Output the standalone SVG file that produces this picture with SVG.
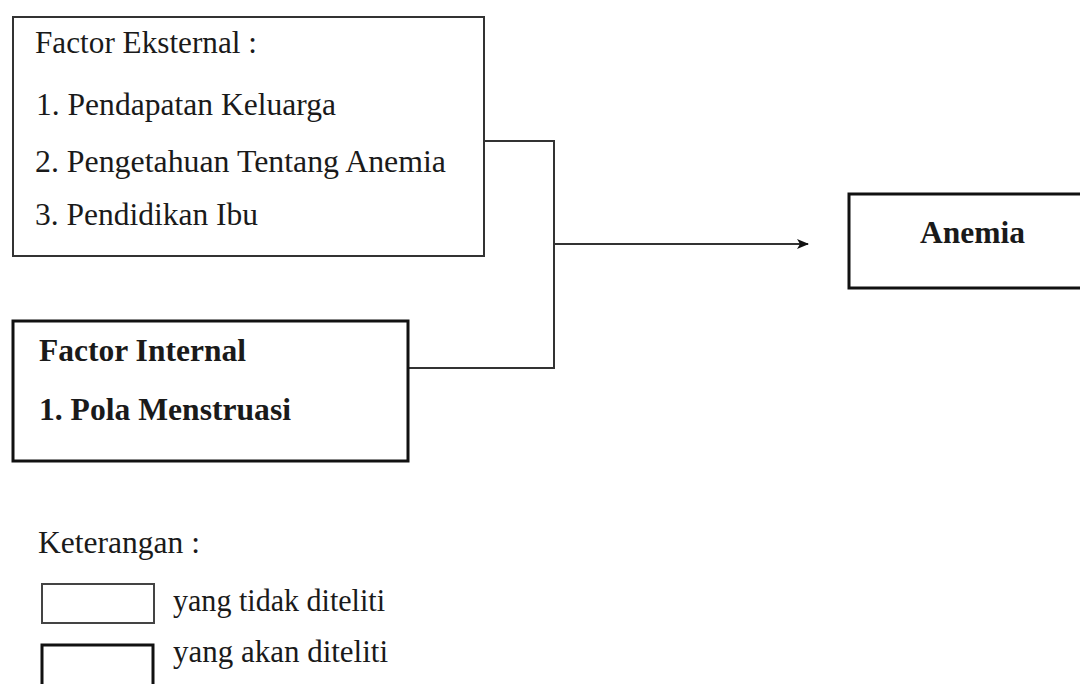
<svg xmlns="http://www.w3.org/2000/svg" width="1080" height="684" viewBox="0 0 1080 684">
  <defs>
    <marker id="arrow" viewBox="0 0 12 10" refX="11" refY="5" markerWidth="12" markerHeight="10" markerUnits="userSpaceOnUse" orient="auto">
      <path d="M0,0 L12,5 L0,10 L3,5 Z" fill="#111"/>
    </marker>
    <style>
      .t { font-family: "Liberation Serif", "Times New Roman", serif; font-size: 31px; fill: #1a1a1a; }
      .b { font-weight: bold; }
      .thin { fill: #fff; stroke: #333; stroke-width: 2; }
      .thick { fill: #fff; stroke: #111; stroke-width: 3; }
      .conn { fill: none; stroke: #333; stroke-width: 2; }
    </style>
  </defs>
  <rect width="1080" height="684" fill="#fff"/>

  <g id="connectors">
    <polyline class="conn" points="485,141 554,141 554,368 409,368"/>
    <line class="conn" x1="554" y1="244" x2="808" y2="244" marker-end="url(#arrow)"/>
  </g>

  <g id="node-eksternal">
    <rect class="thin" x="13" y="17" width="471" height="239"/>
    <text class="t" x="35" y="53" textLength="222" lengthAdjust="spacingAndGlyphs">Factor Eksternal :</text>
    <text class="t" x="36" y="115" textLength="300" lengthAdjust="spacingAndGlyphs">1. Pendapatan Keluarga</text>
    <text class="t" x="35" y="172" textLength="411" lengthAdjust="spacingAndGlyphs">2. Pengetahuan Tentang Anemia</text>
    <text class="t" x="35" y="225" textLength="223" lengthAdjust="spacingAndGlyphs">3. Pendidikan Ibu</text>
  </g>

  <g id="node-internal">
    <rect class="thick" x="13" y="321" width="395" height="140"/>
    <text class="t b" x="39" y="361" textLength="207" lengthAdjust="spacingAndGlyphs">Factor Internal</text>
    <text class="t b" x="39" y="420" textLength="252" lengthAdjust="spacingAndGlyphs">1. Pola Menstruasi</text>
  </g>

  <g id="node-anemia">
    <rect class="thick" x="849" y="194" width="260" height="94"/>
    <text class="t b" x="920" y="243" textLength="105" lengthAdjust="spacingAndGlyphs">Anemia</text>
  </g>

  <g id="legend">
    <text class="t" x="38" y="553" textLength="162" lengthAdjust="spacingAndGlyphs">Keterangan :</text>
    <rect x="42" y="584" width="112" height="39" fill="#fff" stroke="#444" stroke-width="2"/>
    <text class="t" x="173" y="611" textLength="212" lengthAdjust="spacingAndGlyphs">yang tidak diteliti</text>
    <rect class="thick" x="42" y="645" width="111" height="60"/>
    <text class="t" x="173" y="662" textLength="215" lengthAdjust="spacingAndGlyphs">yang akan diteliti</text>
  </g>
</svg>
